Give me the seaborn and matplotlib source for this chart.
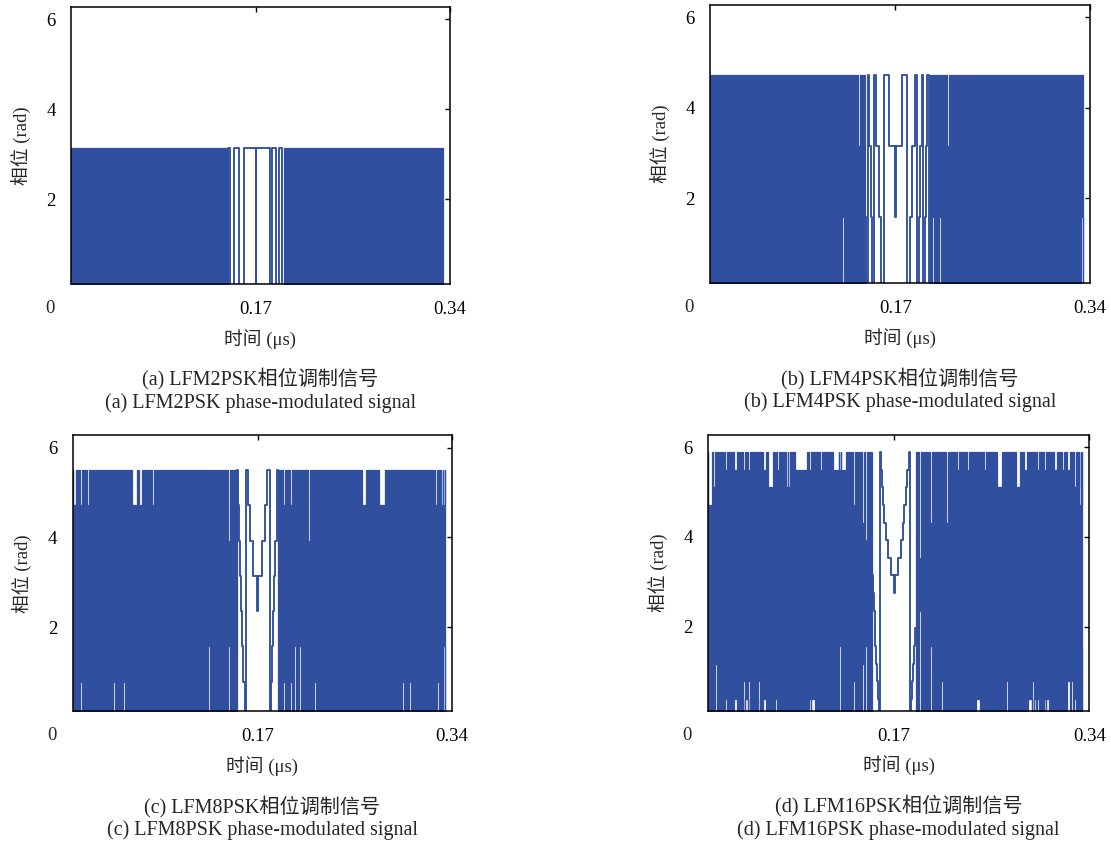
import numpy as np
import matplotlib
matplotlib.use("Agg")
import matplotlib.pyplot as plt
import seaborn as sns

sns.set_style("white")
plt.rcParams['font.family'] = ['Liberation Serif', 'Noto Sans CJK SC']
plt.rcParams['axes.unicode_minus'] = False

BLUE = '#304f9f'

# phase levels are stored as integer indices k, phase = k * 2*pi / M
# (a) LFM2PSK
a_start, a_end = 0.008, 0.3336
a_step_t = [0.1455, 0.1470, 0.1505, 0.1548, 0.1597, 0.1698, 0.1702, 0.1820, 0.1842,
            0.1873, 0.1899, 0.1930, 0.1947]
a_step_k = [1, 0, 1, 0, 1, 0, 1, 0, 1, 0, 1, 0]
a_slots = []

# (b) LFM4PSK
b_start, b_end = 0.008, 0.3336
b_step_t = [0.1433, 0.1445, 0.1457, 0.1471, 0.1483, 0.1498, 0.1515, 0.1533, 0.1553, 0.1576,
            0.1602, 0.1643, 0.1694, 0.1704, 0.1754, 0.1798, 0.1824, 0.1847, 0.1868, 0.1885,
            0.1902, 0.1917, 0.1929, 0.1943, 0.1955, 0.1967, 0.1978, 0.1990, 0.2001]
b_step_k = [1, 0, 3, 2, 1, 0, 3, 2, 1, 0, 3, 2, 1, 2, 3, 0, 1, 2, 3, 0, 1, 2, 3, 0, 1, 2, 3, 0]
b_slots = [(0.1232, 0.1247, 1, 3), (0.1265, 0.1279, 1, 3), (0.1346, 0.1358, 0, 2),
           (0.1375, 0.1387, 0, 2), (0.1404, 0.1416, 0, 2), (0.2019, 0.2036, 1, 3),
           (0.2080, 0.2097, 1, 3), (0.2150, 0.2166, 0, 2), (0.3321, 0.3336, 1, 3)]

# (c) LFM8PSK
c_start, c_end = 0.008, 0.3341
c_step_t = [0.1518, 0.1526, 0.1534, 0.1544, 0.1553, 0.1563, 0.1574, 0.1586, 0.1600, 0.1615,
            0.1634, 0.1662, 0.1699, 0.1702, 0.1738, 0.1766, 0.1785, 0.1806, 0.1815, 0.1827,
            0.1837, 0.1847, 0.1856, 0.1866, 0.1874, 0.1882]
c_step_k = [7, 6, 5, 4, 3, 2, 1, 0, 7, 6, 5, 4, 3, 4, 5, 6, 7, 0, 1, 2, 3, 4, 5, 6, 7]
c_slots = [(0.0080, 0.0106, 0, 6), (0.0143, 0.0158, 1, 6), (0.0207, 0.0222, 0, 6),
           (0.0371, 0.0384, 1, 7), (0.0437, 0.0450, 1, 7), (0.0524, 0.0538, 1, 7),
           (0.0601, 0.0640, 0, 6), (0.0663, 0.0684, 0, 6), (0.0771, 0.0792, 0, 6),
           (0.1218, 0.1231, 2, 7), (0.1269, 0.1282, 2, 7), (0.1311, 0.1322, 0, 6),
           (0.1326, 0.1338, 1, 5), (0.1355, 0.1366, 1, 5), (0.1385, 0.1396, 1, 5),
           (0.1414, 0.1426, 1, 5), (0.1442, 0.1455, 2, 5), (0.1468, 0.1480, 2, 4),
           (0.1492, 0.1505, 3, 4),
           (0.1895, 0.1908, 2, 5), (0.1926, 0.1939, 1, 6), (0.1957, 0.1970, 1, 6),
           (0.1987, 0.2000, 1, 6), (0.2022, 0.2036, 2, 7), (0.2066, 0.2079, 2, 7),
           (0.2145, 0.2158, 0, 5), (0.2198, 0.2211, 1, 7), (0.2618, 0.2649, 0, 6),
           (0.2710, 0.2723, 1, 7), (0.2767, 0.2815, 0, 6), (0.2903, 0.2916, 1, 7),
           (0.2968, 0.2982, 1, 7), (0.3030, 0.3043, 1, 7), (0.3236, 0.3249, 1, 6),
           (0.3254, 0.3276, 0, 6), (0.3276, 0.3289, 1, 7), (0.3303, 0.3326, 0, 6),
           (0.3326, 0.3341, 2, 6)]

# (d) LFM16PSK
d_start, d_end = 0.0081, 0.3337
d_step_t = [0.1508, 0.1515, 0.1523, 0.1530, 0.1537, 0.1544, 0.1552, 0.1559, 0.1566, 0.1574,
            0.1582, 0.1591, 0.1601, 0.1613, 0.1627, 0.1645, 0.1669, 0.1696, 0.1704, 0.1736,
            0.1758, 0.1776, 0.1790, 0.1805, 0.1816, 0.1828, 0.1840, 0.1848, 0.1857, 0.1866,
            0.1874, 0.1883, 0.1892]
d_step_k = [8, 7, 6, 5, 4, 3, 2, 1, 0, 15, 14, 13, 12, 11, 10, 9, 8, 7, 8, 9, 10, 11, 12, 13,
            14, 15, 0, 1, 2, 3, 4, 5]
d_slots = [(0.0081, 0.0113, 0, 12), (0.0122, 0.0136, 0, 13), (0.0142, 0.0156, 3, 15),
           (0.0171, 0.0183, 1, 14), (0.0200, 0.0212, 1, 15), (0.0229, 0.0241, 1, 14),
           (0.0270, 0.0281, 1, 15), (0.0305, 0.0328, 1, 14), (0.0348, 0.0360, 0, 14),
           (0.0374, 0.0386, 1, 15), (0.0386, 0.0403, 2, 14), (0.0403, 0.0427, 1, 15),
           (0.0427, 0.0444, 2, 14), (0.0444, 0.0453, 1, 15), (0.0502, 0.0514, 1, 15),
           (0.0514, 0.0531, 2, 15), (0.0555, 0.0581, 1, 14), (0.0604, 0.0648, 0, 13),
           (0.0665, 0.0677, 1, 15), (0.0683, 0.0700, 0, 14), (0.0706, 0.0717, 1, 15),
           (0.0723, 0.0735, 0, 14), (0.0755, 0.0773, 0, 13), (0.0778, 0.0793, 0, 13),
           (0.0810, 0.0822, 1, 15), (0.0837, 0.0938, 0, 14), (0.0956, 0.0979, 1, 14),
           (0.0979, 0.1014, 1, 15), (0.1055, 0.1072, 0, 14), (0.1171, 0.1217, 0, 14),
           (0.1217, 0.1235, 4, 14), (0.1235, 0.1276, 0, 14), (0.1276, 0.1287, 4, 15),
           (0.1313, 0.1325, 3, 13), (0.1345, 0.1360, 2, 12), (0.1386, 0.1398, 3, 11),
           (0.1421, 0.1433, 3, 11), (0.1450, 0.1462, 4, 10), (0.1479, 0.1491, 5, 9),
           (0.1918, 0.1930, 6, 9), (0.1950, 0.1962, 6, 10), (0.1982, 0.1994, 5, 10),
           (0.2014, 0.2026, 4, 11), (0.2049, 0.2060, 3, 13), (0.2081, 0.2092, 2, 14),
           (0.2110, 0.2122, 2, 15), (0.2139, 0.2151, 2, 15), (0.2156, 0.2168, 0, 11),
           (0.2183, 0.2194, 2, 14), (0.2212, 0.2223, 2, 15), (0.2247, 0.2261, 0, 14),
           (0.2334, 0.2351, 0, 14), (0.2409, 0.2450, 1, 15), (0.2479, 0.2502, 0, 14),
           (0.2508, 0.2520, 1, 15), (0.2560, 0.2572, 1, 15), (0.2595, 0.2642, 0, 13),
           (0.2677, 0.2688, 2, 15), (0.2700, 0.2712, 2, 15), (0.2735, 0.2747, 1, 15),
           (0.2758, 0.2799, 0, 13), (0.2828, 0.2857, 0, 14), (0.2863, 0.2898, 1, 15),
           (0.2898, 0.2915, 2, 15), (0.2915, 0.2933, 1, 15), (0.2944, 0.2962, 1, 14),
           (0.2997, 0.3008, 1, 15), (0.3008, 0.3026, 1, 14), (0.3026, 0.3049, 1, 15),
           (0.3090, 0.3119, 0, 14), (0.3162, 0.3177, 0, 14), (0.3206, 0.3235, 2, 14),
           (0.3241, 0.3258, 2, 15), (0.3264, 0.3287, 1, 13), (0.3299, 0.3311, 0, 13),
           (0.3311, 0.3325, 0, 12), (0.3325, 0.3337, 4, 12)]

panels = [
    ('a', 2, a_start, a_end, a_step_t, a_step_k, a_slots),
    ('b', 4, b_start, b_end, b_step_t, b_step_k, b_slots),
    ('c', 8, c_start, c_end, c_step_t, c_step_k, c_slots),
    ('d', 16, d_start, d_end, d_step_t, d_step_k, d_slots),
]

# axes boxes in figure fraction
boxes = [[0.0639, 0.6631, 0.3411, 0.3286],
         [0.6391, 0.6643, 0.3420, 0.3298],
         [0.0654, 0.1560, 0.3411, 0.3274],
         [0.6375, 0.1566, 0.3429, 0.3274]]


def envelope(t0, t1, top, slots):
    # dense part of the signal: filled band between lo and hi, with gaps
    xs, lo, hi = [t0], [0], [top]
    for s0, s1, k0, k1 in slots:
        if s0 >= t0 and s1 <= t1 + 1e-9:
            xs += [s0, s1]
            lo += [k0, 0]
            hi += [k1, top]
    xs.append(t1)
    lo.append(lo[-1])
    hi.append(hi[-1])
    return np.array(xs), np.array(lo), np.array(hi)


fig = plt.figure(figsize=(11.11, 8.43), dpi=100)
fs = 13.5
fs_cap = 14.5

for (tag, M, t_start, t_end, step_t, step_k, slots), box in zip(panels, boxes):
    ax = fig.add_axes(box)
    unit = 2 * np.pi / M
    top = M - 1

    for seg0, seg1 in [(t_start, step_t[0]), (step_t[-1], t_end)]:
        xs, lo, hi = envelope(seg0, seg1, top, slots)
        ax.fill_between(xs, lo * unit, hi * unit, step='post', facecolor=BLUE,
                        edgecolor=BLUE, linewidth=0.9)

    yk = np.append(step_k, step_k[-1]) * unit
    sns.lineplot(x=step_t, y=yk, drawstyle='steps-post', color=BLUE, linewidth=1.35,
                 estimator=None, ax=ax)

    ax.set_xlim(0.008, 0.34)
    ax.set_ylim(0.12, 6.27)
    ax.set_xticks([0.17, 0.34])
    ax.set_xticklabels(['0.17', '0.34'])
    ax.set_yticks([2, 4, 6])
    ax.set_yticklabels(['2', '4', '6'])
    ax.tick_params(direction='in', top=True, right=True, length=3.5, width=1,
                   labelsize=fs, colors='black')
    ax.tick_params(axis='x', pad=12)
    ax.tick_params(axis='y', pad=11)
    for sp in ax.spines.values():
        sp.set_color('black')
        sp.set_linewidth(1.1)
    ax.set_xlabel('')
    ax.set_ylabel('')

    ax.text(-0.055, -0.088, '0', transform=ax.transAxes, ha='center', va='center',
            fontsize=fs)
    ax.text(0.5, -0.197, '时间 (μs)', transform=ax.transAxes, ha='center', va='center',
            fontsize=fs)
    ax.text(-0.133, 0.5, '相位 (rad)', transform=ax.transAxes, ha='center', va='center',
            rotation=90, fontsize=fs)
    ax.text(0.5, -0.343, f'({tag}) LFM{M}PSK相位调制信号', transform=ax.transAxes,
            ha='center', va='center', fontsize=fs_cap)
    ax.text(0.5, -0.43, f'({tag}) LFM{M}PSK phase-modulated signal', transform=ax.transAxes,
            ha='center', va='center', fontsize=fs_cap)

fig.savefig('out.png', dpi=100, facecolor='white')
